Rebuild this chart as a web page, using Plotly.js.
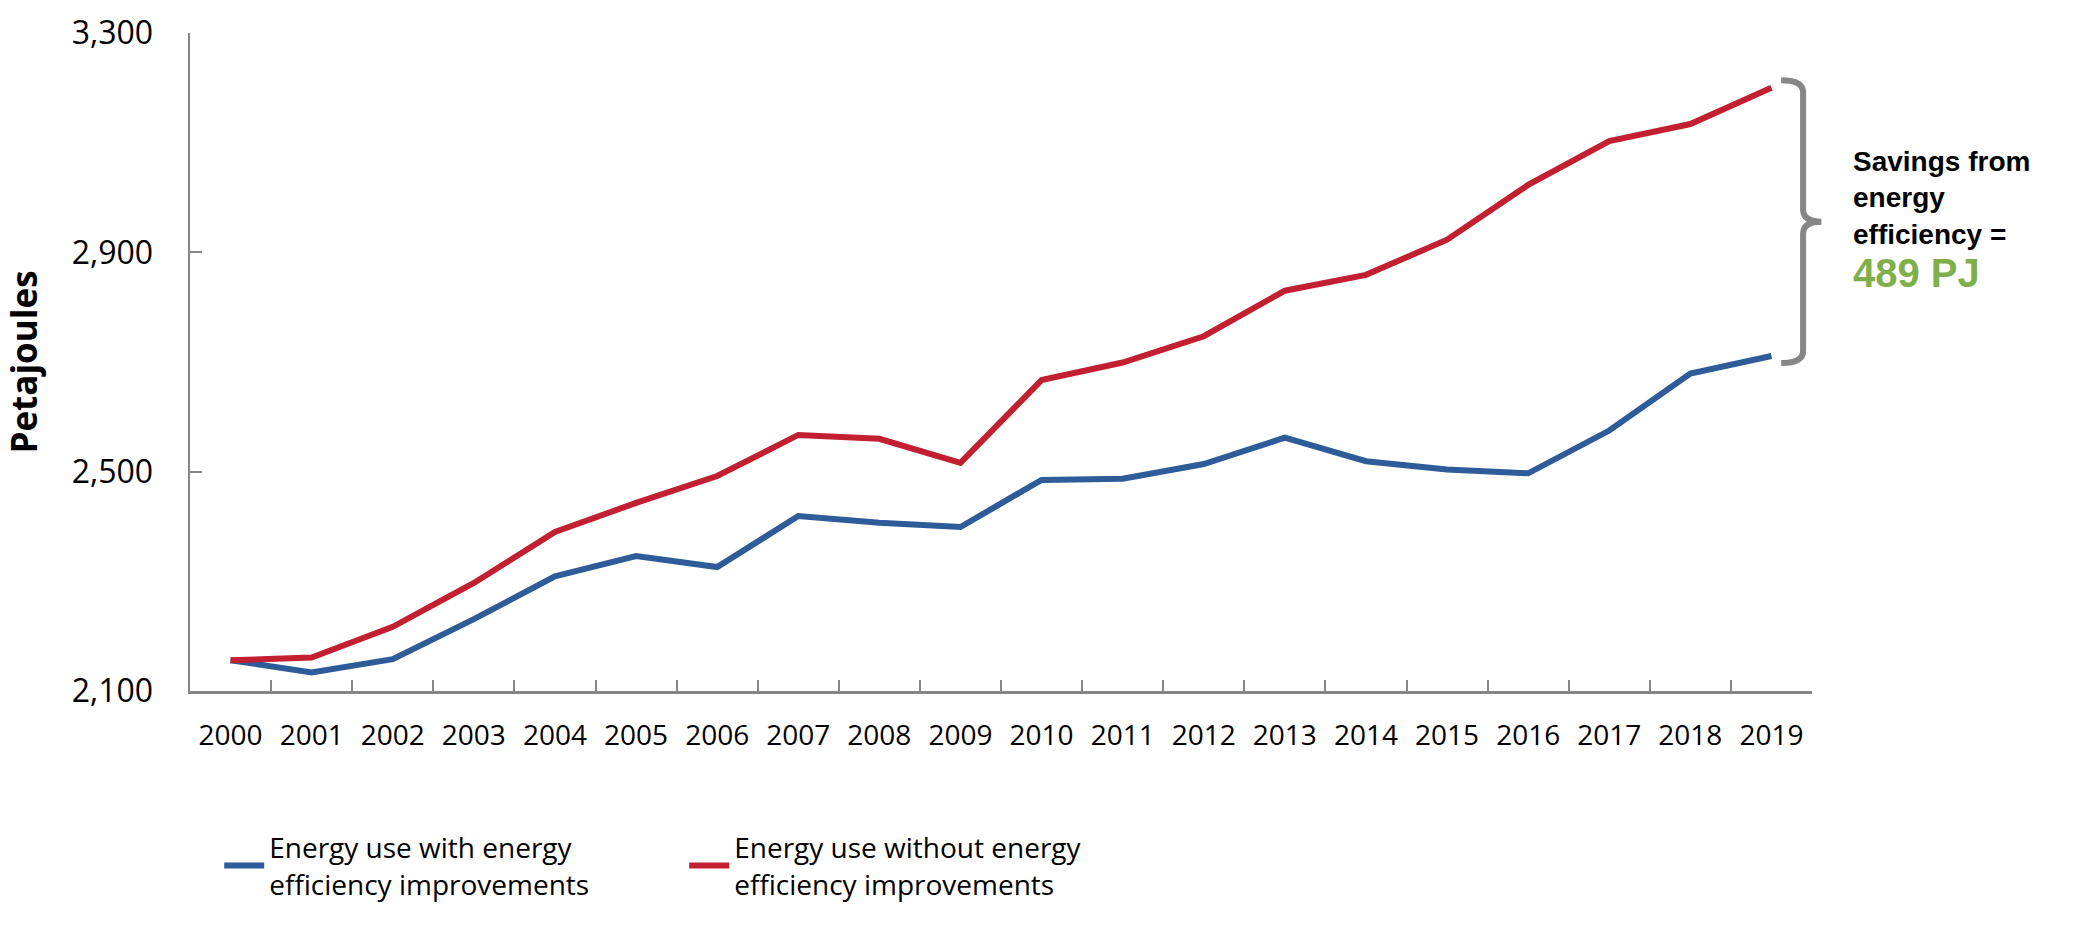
<!DOCTYPE html>
<html>
<head>
<meta charset="utf-8">
<script src="https://cdn.plot.ly/plotly-3.0.1.min.js"></script>
<style>html,body{margin:0;padding:0;background:#fff;}#chart{width:2082px;height:928px;}</style>
</head>
<body>
<div id="chart"></div>
<script>
// ---- data ----
const years = ["2000","2001","2002","2003","2004","2005","2006","2007","2008","2009",
               "2010","2011","2012","2013","2014","2015","2016","2017","2018","2019"];
const withEE = [2156,2134,2158,2231,2309,2346,2326,2419,2407,2399,
                2485,2487,2514,2562,2519,2504,2497,2575,2679,2711];
const withoutEE = [2156,2161,2217,2297,2390,2443,2492,2567,2560,2516,
                   2667,2699,2747,2830,2859,2923,3023,3103,3134,3200];
const yTicks = [2100,2500,2900,3300];
const seriesNames = ["Energy use with energy<br>efficiency improvements",
                     "Energy use without energy<br>efficiency improvements"];
const savingsLabel = "Savings from<br>energy<br>efficiency =";
const savingsValue = (withoutEE[withoutEE.length-1] - withEE[withEE.length-1]) + " PJ";

const blue = "#2D5C99", red = "#C21F30", grey = "#868686", green = "#7FAF4A";

const traces = [
  {x: years, y: withEE, name: seriesNames[0], type: "scatter", mode: "lines",
   line: {color: blue, width: 6}},
  {x: years, y: withoutEE, name: seriesNames[1], type: "scatter", mode: "lines",
   line: {color: red, width: 6}}
];

// brace spanning the 2019 gap (y in data units, x in paper units)
const topV = withoutEE[19] + 14, botV = withEE[19] - 13, midV = (topV + botV) / 2;
const xa = 0.981, xb = 0.9945, xc = 1.0058, r = 22;
const bracePath = `M ${xa},${topV} Q ${xb},${topV} ${xb},${topV - r} L ${xb},${midV + r} ` +
  `Q ${xb},${midV} ${xc},${midV} Q ${xb},${midV} ${xb},${midV - r} L ${xb},${botV + r} ` +
  `Q ${xb},${botV} ${xa},${botV}`;

const layout = {
  width: 2082, height: 928,
  paper_bgcolor: "#fff", plot_bgcolor: "#fff",
  margin: {l: 190, r: 270, t: 33, b: 237},
  showlegend: true,
  font: {family: "Open Sans, sans-serif", color: "#000"},
  xaxis: {
    type: "category", range: [-0.5, 19.5],
    showline: true, linecolor: grey, linewidth: 2.5,
    ticks: "inside", tickson: "boundaries", ticklen: 11, tickwidth: 2, tickcolor: grey,
    showgrid: false, zeroline: false,
    tickfont: {family: "Open Sans, sans-serif", size: 28, color: "#000"},
    ticklabelstandoff: 18, fixedrange: true
  },
  yaxis: {
    range: [2100, 3300], tickvals: yTicks, tickformat: ",",
    showline: true, linecolor: grey, linewidth: 2.5,
    ticks: "inside", ticklen: 12, tickwidth: 2, tickcolor: grey,
    showgrid: false, zeroline: false,
    tickfont: {family: "Open Sans, sans-serif", size: 32, color: "#000"},
    ticklabelstandoff: 28,
    title: {text: "<b>Petajoules</b>", font: {family: "Open Sans, sans-serif", size: 35, color: "#000"}, standoff: 36},
    fixedrange: true
  },
  legend: {
    orientation: "h", x: 0.018, xanchor: "left", y: -0.2, yanchor: "top",
    font: {family: "Open Sans, sans-serif", size: 28, color: "#000"},
    entrywidth: 410, entrywidthmode: "pixels", itemwidth: 40, tracegroupgap: 0
  },
  shapes: [{type: "path", xref: "paper", yref: "y", path: bracePath,
            line: {color: grey, width: 6}, layer: "above"}],
  annotations: [
    {xref: "paper", yref: "paper", x: 1.024, y: 0.75, xanchor: "left", yanchor: "middle",
     align: "left", showarrow: false, text: "<b>" + savingsLabel + "</b>",
     font: {family: "Liberation Sans, Arial, sans-serif", size: 28, color: "#000"}},
    {xref: "paper", yref: "paper", x: 1.024, y: 0.636, xanchor: "left", yanchor: "middle",
     align: "left", showarrow: false, text: "<b>" + savingsValue + "</b>",
     font: {family: "Liberation Sans, Arial, sans-serif", size: 40, color: green}}
  ]
};

Plotly.newPlot("chart", traces, layout, {displayModeBar: false, staticPlot: true});
</script>
</body>
</html>
